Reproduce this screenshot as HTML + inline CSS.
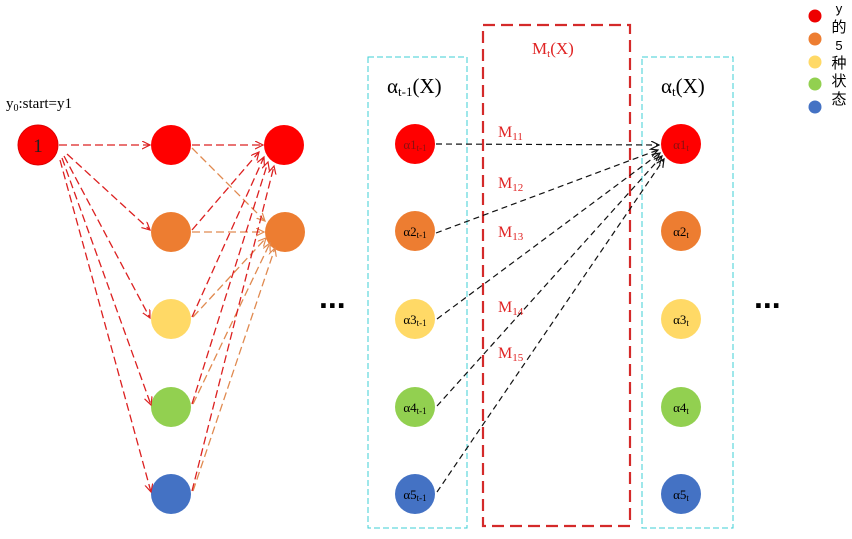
<!DOCTYPE html>
<html><head><meta charset="utf-8"><style>
html,body{margin:0;padding:0;background:#fff;}
svg{display:block;}
</style></head><body>
<svg width="852" height="539" viewBox="0 0 852 539" xmlns="http://www.w3.org/2000/svg">
<defs>
<marker id="ar" markerWidth="10" markerHeight="10" refX="8" refY="4" orient="auto" markerUnits="userSpaceOnUse">
<path d="M0,0 L8,4 L0,8" fill="none" stroke="#DC2020" stroke-width="1.2"/></marker>
<marker id="ao" markerWidth="10" markerHeight="10" refX="8" refY="4" orient="auto" markerUnits="userSpaceOnUse">
<path d="M0,0 L8,4 L0,8" fill="none" stroke="#E08A50" stroke-width="1.2"/></marker>
<marker id="ab" markerWidth="10" markerHeight="10" refX="8" refY="4" orient="auto" markerUnits="userSpaceOnUse">
<path d="M0,0 L8,4 L0,8" fill="none" stroke="#111" stroke-width="1.2"/></marker>
</defs>

<!-- boxes -->
<rect x="368" y="57" width="99" height="471" fill="none" stroke="#3CCFD6" stroke-width="1" stroke-dasharray="6,3"/>
<rect x="642" y="57" width="91" height="471" fill="none" stroke="#3CCFD6" stroke-width="1" stroke-dasharray="6,3"/>
<rect x="483" y="25" width="147" height="501" fill="none" stroke="#D42A2A" stroke-width="2.2" stroke-dasharray="12,6"/>

<!-- left nodes -->
<circle cx="38" cy="145" r="20" fill="#F00" stroke="#D00" stroke-width="1"/>
<text x="38" y="152" font-family="Liberation Serif, serif" font-size="19" text-anchor="middle" fill="#222">1</text>
<text x="6" y="108" font-family="Liberation Serif, serif" font-size="15" fill="#000">y<tspan font-size="10" dy="3">0</tspan><tspan dy="-3">:start=y1</tspan></text>

<circle cx="171" cy="145" r="20" fill="#F00"/>
<circle cx="171" cy="232" r="20" fill="#ED7D31"/>
<circle cx="171" cy="319" r="20" fill="#FFD966"/>
<circle cx="171" cy="407" r="20" fill="#92D050"/>
<circle cx="171" cy="494" r="20" fill="#4472C4"/>
<circle cx="284" cy="145" r="20" fill="#F00"/>
<circle cx="285" cy="232" r="20" fill="#ED7D31"/>

<!-- node1 -> col2 -->
<g stroke="#DC2020" stroke-width="1.3" stroke-dasharray="8,4" fill="none">
<line x1="59" y1="145" x2="150" y2="145" marker-end="url(#ar)"/>
<line x1="67" y1="154" x2="150" y2="230" marker-end="url(#ar)"/>
<line x1="64" y1="156" x2="150" y2="318" marker-end="url(#ar)"/>
<line x1="62" y1="158" x2="151" y2="405" marker-end="url(#ar)"/>
<line x1="60" y1="160" x2="151" y2="492" marker-end="url(#ar)"/>
</g>
<!-- col2 -> col3 orange -->
<g stroke="#E08A50" stroke-width="1.3" stroke-dasharray="8,4" fill="none">
<line x1="192" y1="148" x2="265" y2="221" marker-end="url(#ao)"/>
<line x1="192" y1="232" x2="264" y2="232" marker-end="url(#ao)"/>
<line x1="193" y1="317" x2="266" y2="238" marker-end="url(#ao)"/>
<line x1="193" y1="404" x2="270" y2="243" marker-end="url(#ao)"/>
<line x1="193" y1="491" x2="275" y2="248" marker-end="url(#ao)"/>
</g>
<!-- col2 -> col3 red -->
<g stroke="#DC2020" stroke-width="1.3" stroke-dasharray="8,4" fill="none">
<line x1="192" y1="145" x2="263" y2="145" marker-end="url(#ar)"/>
<line x1="192" y1="230" x2="259" y2="152" marker-end="url(#ar)"/>
<line x1="192" y1="317" x2="264" y2="157" marker-end="url(#ar)"/>
<line x1="192" y1="404" x2="268" y2="162" marker-end="url(#ar)"/>
<line x1="192" y1="491" x2="274" y2="166" marker-end="url(#ar)"/>
</g>

<!-- ellipses -->
<text x="319" y="308" font-family="Liberation Sans, sans-serif" font-size="32" font-weight="bold" fill="#000">...</text>
<text x="754" y="308" font-family="Liberation Sans, sans-serif" font-size="32" font-weight="bold" fill="#000">...</text>

<!-- titles -->
<text x="387" y="93" font-family="Liberation Serif, serif" font-size="21" fill="#000">α<tspan font-size="13" dy="3">t-1</tspan><tspan dy="-3">(X)</tspan></text>
<text x="661" y="93" font-family="Liberation Serif, serif" font-size="21" fill="#000">α<tspan font-size="13" dy="3">t</tspan><tspan dy="-3">(X)</tspan></text>
<text x="532" y="54" font-family="Liberation Serif, serif" font-size="17" fill="#E02424">M<tspan font-size="11" dy="3">t</tspan><tspan dy="-3">(X)</tspan></text>

<!-- M labels -->
<g font-family="Liberation Serif, serif" font-size="16" fill="#E02424">
<text x="498" y="137">M<tspan font-size="11" dy="3">11</tspan></text>
<text x="498" y="188">M<tspan font-size="11" dy="3">12</tspan></text>
<text x="498" y="237">M<tspan font-size="11" dy="3">13</tspan></text>
<text x="498" y="312">M<tspan font-size="11" dy="3">14</tspan></text>
<text x="498" y="358">M<tspan font-size="11" dy="3">15</tspan></text>
</g>

<!-- middle nodes -->
<circle cx="415" cy="144" r="20" fill="#F00"/>
<circle cx="415" cy="231" r="20" fill="#ED7D31"/>
<circle cx="415" cy="319" r="20" fill="#FFD966"/>
<circle cx="415" cy="407" r="20" fill="#92D050"/>
<circle cx="415" cy="494" r="20" fill="#4472C4"/>
<circle cx="681" cy="144" r="20" fill="#F00"/>
<circle cx="681" cy="231" r="20" fill="#ED7D31"/>
<circle cx="681" cy="319" r="20" fill="#FFD966"/>
<circle cx="681" cy="407" r="20" fill="#92D050"/>
<circle cx="681" cy="494" r="20" fill="#4472C4"/>

<g font-family="Liberation Serif, serif" font-size="13" fill="#000" text-anchor="middle">
<text x="415" y="149" fill="#8a1010">α1<tspan font-size="9" dy="2">t-1</tspan></text>
<text x="415" y="236">α2<tspan font-size="9" dy="2">t-1</tspan></text>
<text x="415" y="324">α3<tspan font-size="9" dy="2">t-1</tspan></text>
<text x="415" y="412">α4<tspan font-size="9" dy="2">t-1</tspan></text>
<text x="415" y="499">α5<tspan font-size="9" dy="2">t-1</tspan></text>
<text x="681" y="149" fill="#8a1010">α1<tspan font-size="9" dy="2">t</tspan></text>
<text x="681" y="236">α2<tspan font-size="9" dy="2">t</tspan></text>
<text x="681" y="324">α3<tspan font-size="9" dy="2">t</tspan></text>
<text x="681" y="412">α4<tspan font-size="9" dy="2">t</tspan></text>
<text x="681" y="499">α5<tspan font-size="9" dy="2">t</tspan></text>
</g>

<!-- black arrows -->
<g stroke="#111" stroke-width="1.2" stroke-dasharray="6,4" fill="none">
<line x1="436" y1="144" x2="659" y2="145" marker-end="url(#ab)"/>
<line x1="436" y1="233" x2="658" y2="150" marker-end="url(#ab)"/>
<line x1="437" y1="319" x2="660" y2="153" marker-end="url(#ab)"/>
<line x1="437" y1="406" x2="662" y2="156" marker-end="url(#ab)"/>
<line x1="437" y1="492" x2="664" y2="159" marker-end="url(#ab)"/>
</g>

<!-- legend -->
<circle cx="815" cy="16" r="6.5" fill="#E00"/>
<circle cx="815" cy="39" r="6.5" fill="#ED7D31"/>
<circle cx="815" cy="62" r="6.5" fill="#FFD966"/>
<circle cx="815" cy="84" r="6.5" fill="#92D050"/>
<circle cx="815" cy="107" r="6.5" fill="#4472C4"/>
<g font-family="Liberation Sans, 'Noto Sans CJK SC', sans-serif" font-size="15" fill="#000" text-anchor="middle">
<text x="839" y="13" font-size="13">y</text>
<text x="839" y="32">的</text>
<text x="839" y="50" font-size="13">5</text>
<text x="839" y="68">种</text>
<text x="839" y="86">状</text>
<text x="839" y="104">态</text>
</g>
</svg>
</body></html>
